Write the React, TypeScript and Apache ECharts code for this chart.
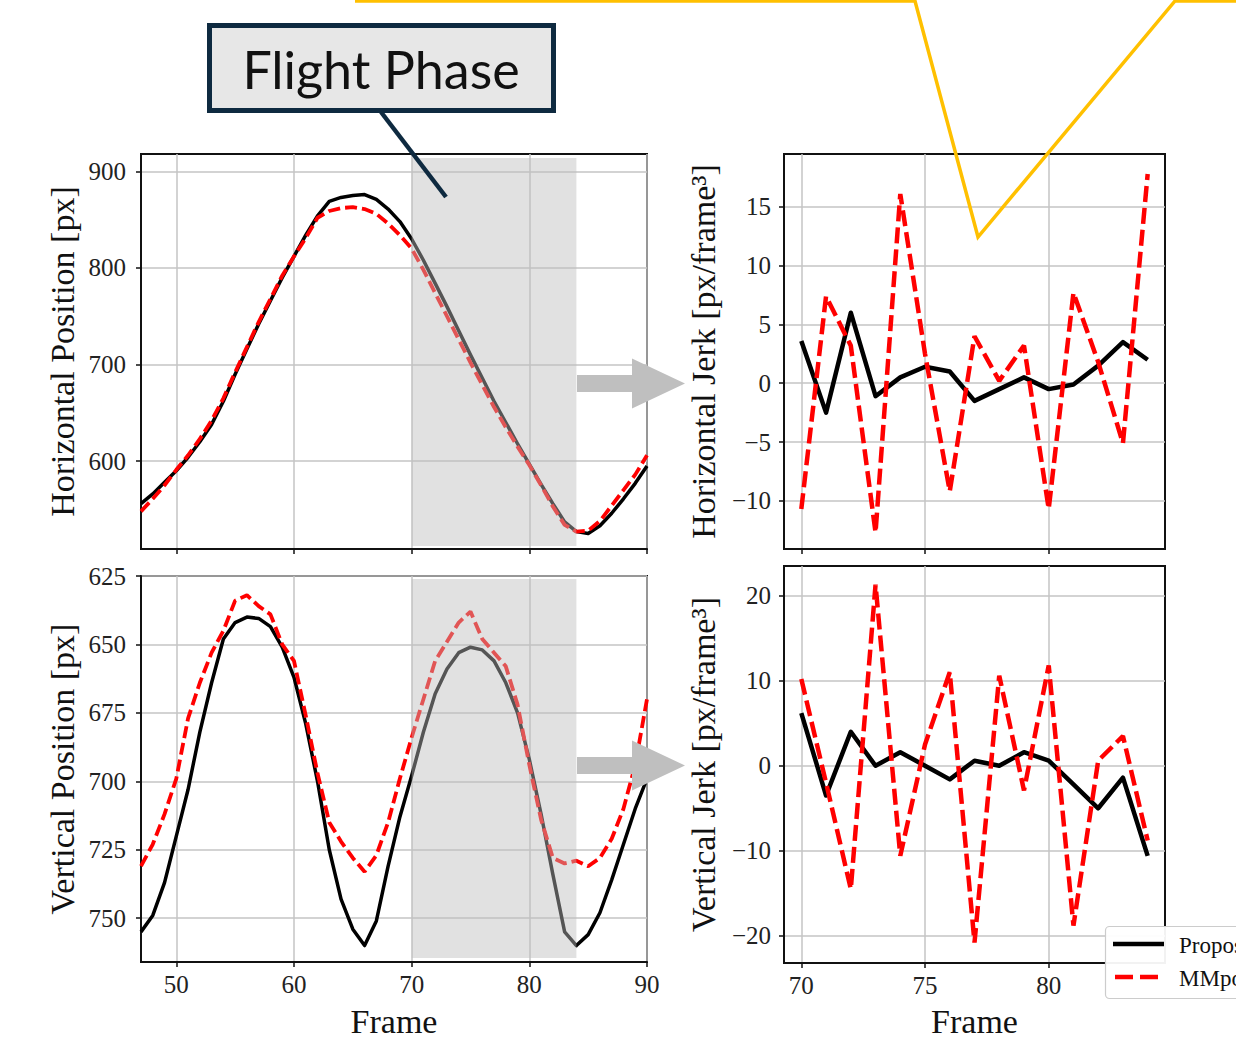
import React, { useEffect, useRef } from 'react';
import * as echarts from 'echarts';

// ---------------- data ----------------
const posFrames = [47, 48, 49, 50, 51, 52, 53, 54, 55, 56, 57, 58, 59, 60, 61, 62, 63, 64, 65, 66, 67, 68, 69, 70, 71, 72, 73, 74, 75, 76, 77, 78, 79, 80, 81, 82, 83, 84, 85, 86, 87, 88, 89, 90];
const horizProposed = [556, 566, 578, 590, 604, 620, 638, 662, 690, 716, 742, 766, 790, 812, 834, 854, 869, 873, 875, 876, 871, 861, 848, 830, 808, 784, 760, 735, 710, 686, 662, 640, 618, 597, 576, 556, 537, 527, 525, 533, 546, 561, 577, 595];
const horizMMpose = [548, 561, 575, 591, 606, 623, 642, 665, 692, 718, 744, 768, 792, 812, 831, 852, 859, 862, 863, 861, 856, 846, 834, 820, 798, 774, 750, 726, 702, 679, 656, 635, 615, 596, 575, 553, 534, 527, 528, 538, 554, 570, 586, 606];
const vertProposed = [755, 749, 737, 720, 703, 682, 664, 648, 642, 640, 640.5, 643.5, 651, 662, 679, 700, 725, 743, 754, 760, 751, 731, 713, 698, 682, 668, 659, 653, 651, 652, 656, 664, 675, 692, 712, 734, 755, 760, 756, 748, 736, 723, 710, 699];
const vertMMpose = [731, 723, 712, 699, 677, 664, 653, 645, 634, 632, 636, 639, 650, 656, 676, 697, 715, 722, 728, 733, 727, 715, 699, 684, 670, 656, 649, 642, 638, 648, 653, 658, 672, 694, 714, 728, 730, 729, 731, 728, 721, 710, 694, 670];

const jerkFrames = [70, 71, 72, 73, 74, 75, 76, 77, 78, 79, 80, 81, 82, 83, 84];
const hJerkProposed = [3.6, -2.5, 6.0, -1.1, 0.5, 1.4, 1.0, -1.5, -0.5, 0.5, -0.5, -0.1, 1.5, 3.5, 2.0];
const hJerkMMpose = [-10.7, 7.4, 3.2, -12.7, 16.1, 2.5, -9.2, 4.0, 0.2, 3.2, -10.7, 7.7, 1.8, -5.1, 17.8];
const vJerkProposed = [6.2, -3.5, 4.0, 0.0, 1.6, 0.0, -1.6, 0.6, 0.0, 1.6, 0.6, -2.2, -5.0, -1.4, -10.6];
const vJerkMMpose = [10.2, -2.0, -14.5, 21.3, -10.6, 2.5, 11.0, -20.8, 10.6, -2.9, 11.8, -18.8, 0.6, 3.5, -8.8];

const posTicksX = [50, 60, 70, 80, 90];
const hPosTicks = [600, 700, 800, 900];
const vPosTicks = [625, 650, 675, 700, 725, 750];
const jerkTicksX = [70, 75, 80];
const hJerkTicks = [-10, -5, 0, 5, 10, 15];
const vJerkTicks = [-20, -10, 0, 10, 20];

const flightPhase = [70, 84];
const legendNames = ['Proposed', 'MMpose'];
const calloutText = 'Flight Phase';

// ---------------- style ----------------
const SERIF = '"Liberation Serif", "Times New Roman", serif';
const GRIDS = [
  { left: 141, top: 154, width: 506, height: 395 },
  { left: 141, top: 576, width: 506, height: 387 },
  { left: 784, top: 154, width: 381, height: 395 },
  { left: 784, top: 566, width: 381, height: 398 },
];

const fmt = (ticks: number[]) => (v: number) => {
  const hit = ticks.some((t) => Math.abs(t - v) < 1e-6);
  if (!hit) return '';
  return String(Math.round(v)).replace('-', '\u2212');
};

function axisCommon(ticks: number[], showLabels: boolean, margin: number) {
  return {
    type: 'value',
    axisLine: { show: true, onZero: false, lineStyle: { color: '#111', width: 2 } },
    axisTick: { show: true, inside: false, length: 5, customValues: ticks, lineStyle: { color: '#111', width: 1.5 } },
    axisLabel: {
      show: showLabels,
      customValues: ticks,
      formatter: fmt(ticks),
      fontFamily: SERIF,
      fontSize: 25,
      color: '#222',
      margin,
    },
    splitLine: { show: true, lineStyle: { color: '#c4c4c4', width: 1.5 } },
  };
}

function lineSeries(x: number[], y: number[], xi: number, dashed: boolean, w: number, dash: number[]) {
  return {
    type: 'line',
    xAxisIndex: xi,
    yAxisIndex: xi,
    data: x.map((f, i) => [f, y[i]]),
    showSymbol: false,
    symbol: 'none',
    silent: true,
    z: dashed ? 4 : 3,
    lineStyle: dashed
      ? { color: '#ff0000', width: w, type: dash, cap: 'butt' }
      : { color: '#000000', width: w, type: 'solid', join: 'round' },
  };
}

export default function App() {
  const ref = useRef<HTMLDivElement>(null);

  useEffect(() => {
    if (!ref.current) return;
    const chart = echarts.init(ref.current, undefined, { renderer: 'svg' });

    const nameStyle = { fontFamily: SERIF, fontSize: 34, color: '#111' };

    chart.setOption({
      animation: false,
      backgroundColor: '#ffffff',
      grid: GRIDS.map((g) => ({ ...g, show: true, borderColor: '#111', borderWidth: 2, containLabel: false })),
      xAxis: [
        { ...axisCommon(posTicksX, false, 10), gridIndex: 0, min: 47, max: 90 },
        { ...axisCommon(posTicksX, true, 10), gridIndex: 1, min: 47, max: 90, name: 'Frame', nameLocation: 'middle', nameGap: 42, nameTextStyle: nameStyle },
        { ...axisCommon(jerkTicksX, false, 10), gridIndex: 2, min: 69.3, max: 84.7, splitNumber: 3 },
        { ...axisCommon(jerkTicksX, true, 10), gridIndex: 3, min: 69.3, max: 84.7, splitNumber: 3, name: 'Frame', nameLocation: 'middle', nameGap: 41, nameTextStyle: nameStyle },
      ],
      yAxis: [
        { ...axisCommon(hPosTicks, true, 15), gridIndex: 0, min: 509, max: 918, name: 'Horizontal Position [px]', nameLocation: 'middle', nameGap: 62, nameTextStyle: nameStyle },
        { ...axisCommon(vPosTicks, true, 15), gridIndex: 1, min: 625, max: 766, interval: 25, inverse: true, name: 'Vertical Position [px]', nameLocation: 'middle', nameGap: 62, nameTextStyle: nameStyle },
        { ...axisCommon(hJerkTicks, true, 13), gridIndex: 2, min: -14.1, max: 19.5, name: 'Horizontal Jerk [px/frame\u00b3]', nameLocation: 'middle', nameGap: 64, nameTextStyle: nameStyle },
        { ...axisCommon(vJerkTicks, true, 13), gridIndex: 3, min: -23.2, max: 23.5, name: 'Vertical Jerk [px/frame\u00b3]', nameLocation: 'middle', nameGap: 64, nameTextStyle: nameStyle },
      ],
      series: [
        lineSeries(posFrames, horizProposed, 0, false, 3.5, []),
        lineSeries(posFrames, horizMMpose, 0, true, 3.8, [12, 5]),
        lineSeries(posFrames, vertProposed, 1, false, 3.5, []),
        lineSeries(posFrames, vertMMpose, 1, true, 3.8, [12, 5]),
        lineSeries(jerkFrames, hJerkProposed, 2, false, 4.5, []),
        lineSeries(jerkFrames, hJerkMMpose, 2, true, 4.5, [16, 6]),
        lineSeries(jerkFrames, vJerkProposed, 3, false, 4.5, []),
        lineSeries(jerkFrames, vJerkMMpose, 3, true, 4.5, [16, 6]),
      ],
    });

    // flight-phase shading from the axis scale
    const shade = (gi: number, insetTop: number, insetBottom: number) => {
      const x0 = chart.convertToPixel({ xAxisIndex: gi } as any, flightPhase[0]) as unknown as number;
      const x1 = chart.convertToPixel({ xAxisIndex: gi } as any, flightPhase[1]) as unknown as number;
      const g = GRIDS[gi];
      return {
        type: 'rect',
        z: 50,
        silent: true,
        shape: { x: x0, y: g.top + insetTop, width: x1 - x0, height: g.height - insetTop - insetBottom },
        style: { fill: 'rgba(188,188,188,0.45)' },
      };
    };

    const navy = '#0e2a40';
    const arrow = (cy: number) => ({
      type: 'polygon',
      z: 60,
      silent: true,
      shape: {
        points: [
          [577, cy - 8.5], [632, cy - 8.5], [632, cy - 25], [685, cy], [632, cy + 25], [632, cy + 8.5], [577, cy + 8.5],
        ],
      },
      style: { fill: '#bfbfbf' },
    });

    chart.setOption({
      graphic: [
        shade(0, 4, 3),
        shade(1, 3, 5),
        arrow(383.5),
        arrow(765.5),
        {
          type: 'polyline',
          z: 70,
          silent: true,
          shape: { points: [[355, 1], [915, 1], [978, 237], [1175, 1], [1240, 1]] },
          style: { stroke: '#FFC000', lineWidth: 3.5, fill: null },
        },
        {
          type: 'line',
          z: 70,
          silent: true,
          shape: { x1: 381, y1: 112, x2: 446, y2: 197 },
          style: { stroke: navy, lineWidth: 4.5 },
        },
        {
          type: 'rect',
          z: 71,
          silent: true,
          shape: { x: 209.5, y: 25.5, width: 344, height: 85 },
          style: { fill: '#e7e7e7', stroke: navy, lineWidth: 5 },
        },
        {
          type: 'text',
          z: 72,
          silent: true,
          style: {
            text: calloutText,
            x: 381,
            y: 69,
            textAlign: 'center',
            textVerticalAlign: 'middle',
            font: '52px Lato, "Open Sans", sans-serif',
            fill: '#111111',
          },
        },
        // legend
        {
          type: 'rect',
          z: 80,
          silent: true,
          shape: { x: 1105.5, y: 926.5, width: 170, height: 72, r: 4 },
          style: { fill: 'rgba(255,255,255,0.95)', stroke: '#cccccc', lineWidth: 1.2 },
        },
        {
          type: 'line',
          z: 81,
          silent: true,
          shape: { x1: 1113, y1: 944, x2: 1164, y2: 944 },
          style: { stroke: '#000000', lineWidth: 4.5 },
        },
        {
          type: 'line',
          z: 81,
          silent: true,
          shape: { x1: 1115, y1: 977, x2: 1164, y2: 977 },
          style: { stroke: '#ff0000', lineWidth: 4.5, lineDash: [18, 7] },
        },
        {
          type: 'text',
          z: 81,
          silent: true,
          style: { text: legendNames[0], x: 1179, y: 945, textVerticalAlign: 'middle', font: '23px ' + SERIF, fill: '#111' },
        },
        {
          type: 'text',
          z: 81,
          silent: true,
          style: { text: legendNames[1], x: 1179, y: 978, textVerticalAlign: 'middle', font: '23px ' + SERIF, fill: '#111' },
        },
      ],
    });

    return () => chart.dispose();
  }, []);

  return (
    <div
      ref={ref}
      style={{ position: 'absolute', left: 0, top: 0, width: 1236, height: 1039, background: '#fff' }}
    />
  );
}
